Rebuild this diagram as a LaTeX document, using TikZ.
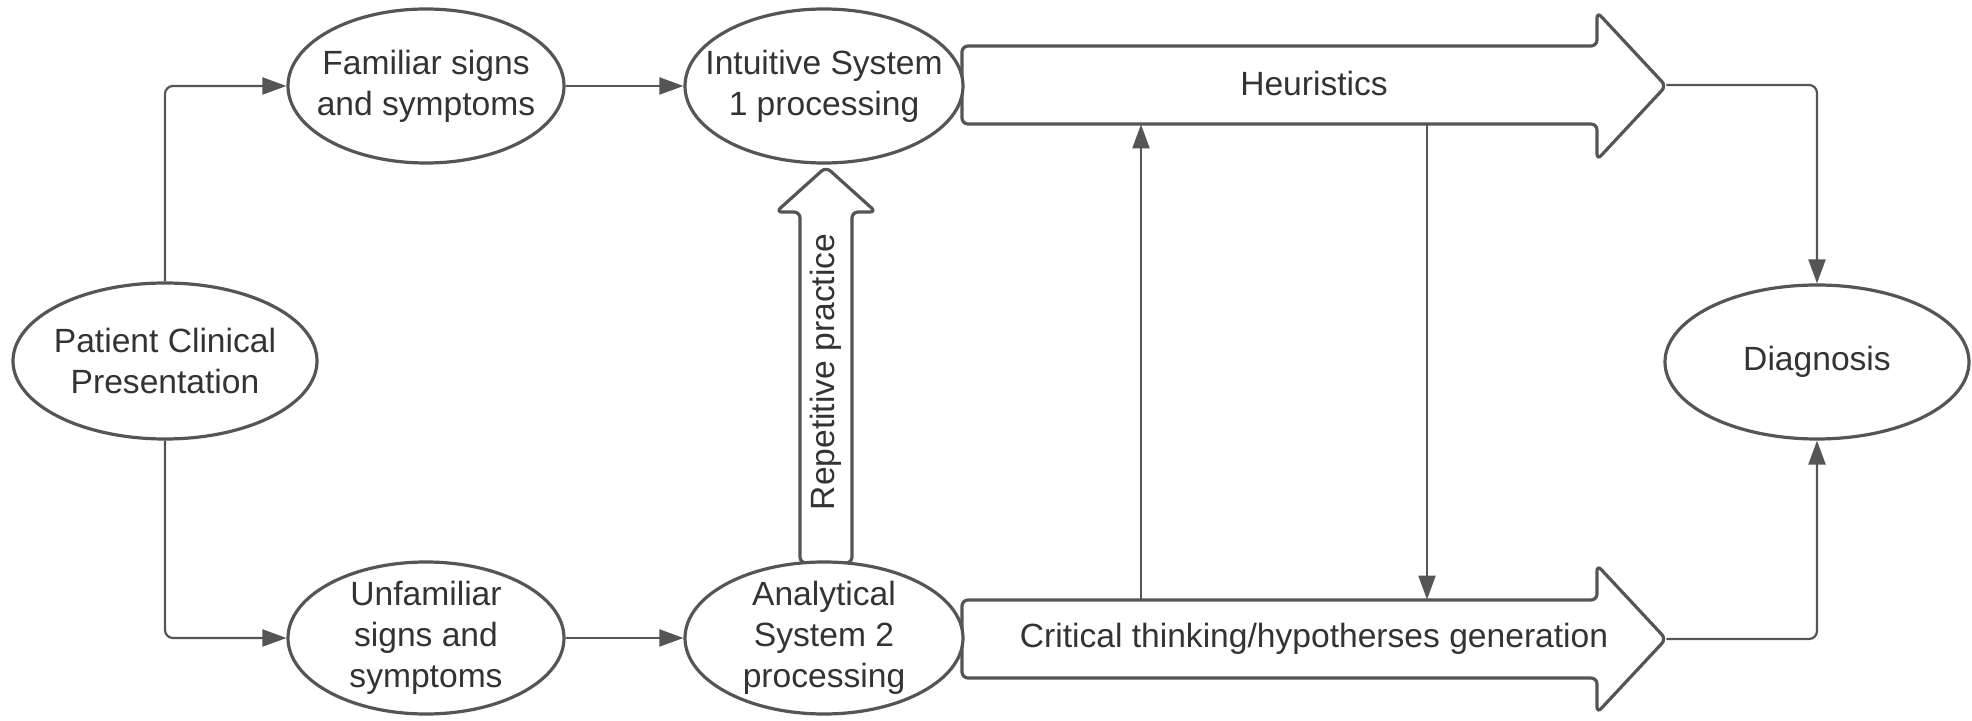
\documentclass[tikz,border=0pt]{standalone}
\usepackage{fontspec}
\setmainfont{Liberation Sans}
\usetikzlibrary{arrows.meta,shapes.geometric}
\definecolor{lc}{HTML}{555555}
\definecolor{tc}{HTML}{333333}
\begin{document}
\begin{tikzpicture}[x=0.5pt,y=-0.5pt,
  ell/.style={draw=lc, line width=1.6pt, ellipse, fill=white, inner sep=0pt},
  txt/.style={text=tc, font=\fontsize{16.8}{20.5}\selectfont, align=center, inner sep=0pt},
  conn/.style={draw=lc, line width=1.1pt, rounded corners=4pt, -{Triangle[length=12pt,width=8.5pt]}},
  bigarrow/.style={draw=lc, line width=1.6pt, fill=white, rounded corners=3pt, line join=round}
]
\useasboundingbox (0,0) rectangle (1972,721);

% big arrows
\draw[bigarrow] (962,46) -- (1597,46) -- (1597,12) -- (1666,86) -- (1597,160) -- (1597,124) -- (962,124) -- cycle;
\draw[bigarrow] (962,600) -- (1597,600) -- (1597,565) -- (1666,639) -- (1597,713) -- (1597,678) -- (962,678) -- cycle;
\draw[bigarrow] (800,563) -- (800,212) -- (776,212) -- (826,167) -- (876,212) -- (852,212) -- (852,563) -- cycle;

% ellipses
\node[ell, minimum width=152pt, minimum height=78pt] (pcp) at (165,361) {};
\node[ell, minimum width=138pt, minimum height=77pt] (fam) at (426,86) {};
\node[ell, minimum width=138pt, minimum height=76pt] (unf) at (426,638) {};
\node[ell, minimum width=139pt, minimum height=77pt] (int) at (824,86) {};
\node[ell, minimum width=139pt, minimum height=76pt] (ana) at (824,638) {};
\node[ell, minimum width=152pt, minimum height=77pt] (diag) at (1817,362) {};

% texts
\node[txt] (pcpt) at (pcp) {Patient Clinical\\Presentation};
\node[txt] (famt) at (fam) {Familiar signs\\and symptoms};
\node[txt] (unft) at (unf) {Unfamiliar\\signs and\\symptoms};
\node[txt] (intt) at (int) {Intuitive System\\1 processing};
\node[txt] (anat) at (ana) {Analytical\\System 2\\processing};
\node[txt] (diagt) at (diag) {Diagnosis};
\node[txt, minimum width=352pt, minimum height=39pt] (heur) at (1314,85) {\raisebox{2pt}{Heuristics}};
\node[txt, minimum width=352pt, minimum height=39pt] (crit) at (1314,639) {Critical thinking/hypotherses generation};
\node[txt, rotate=90] (rep) at (826,372) {Repetitive practice};

% connectors
\draw[conn] (pcp.north) |- (fam.west);
\draw[conn] (pcp.south) |- (unf.west);
\draw[conn] (fam.east) -- (int.west);
\draw[conn] (unf.east) -- (ana.west);
\coordinate (upx) at (1141,0);
\coordinate (downx) at (1427,0);
\draw[conn] (upx |- crit.north) -- (upx |- heur.south);
\draw[conn] (downx |- heur.south) -- (downx |- crit.north);
\draw[conn] (heur.east) -| (diag.north);
\draw[conn] (crit.east) -| (diag.south);
\end{tikzpicture}
\end{document}
